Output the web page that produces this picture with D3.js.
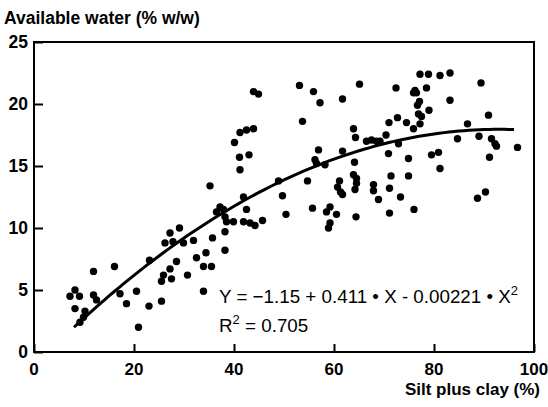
<!DOCTYPE html>
<html>
<head>
<meta charset="utf-8">
<script src="https://cdn.jsdelivr.net/npm/d3@7"></script>
<style>
  body { margin: 0; background: #fff; }
  svg { display: block; }
  text { font-family: "Liberation Sans", Arial, Helvetica, sans-serif; fill: #000; }
</style>
</head>
<body>
<div id="chart"></div>
<script>
// silt plus clay (%)
var siltClay = [
  7.2, 8.2, 9.1, 8.2, 10.2, 9.9, 9.2, 11.9, 11.9, 12.5, 16.1, 17.2, 18.5, 20.5, 20.9,
  23.0, 23.1, 25.5, 25.5, 25.9, 27.5, 27.2, 28.5, 30.7, 26.2, 27.8, 27.2, 29.1, 29.9,
  31.9, 32.5, 33.9, 35.5, 33.9,
  43.9, 44.9, 53.1, 55.9, 57.2, 61.7, 65.1, 53.7, 43.9, 42.5, 41.2, 40.1, 41.1, 43.0,
  41.2, 35.2, 63.9, 64.3, 56.9, 61.7, 66.5, 67.5, 68.5, 56.2, 56.5, 58.2, 64.1, 63.9,
  64.5, 64.5, 64.2, 67.9, 67.9, 68.9, 61.1, 60.7, 61.3, 61.7, 54.7, 48.9, 41.9, 49.7,
  37.2, 37.9, 36.5, 42.5, 38.2, 38.5, 39.9, 41.9, 43.2, 44.2, 45.7, 50.4, 55.7, 59.2,
  58.5, 60.5, 64.4, 59.2, 58.9, 35.7, 38.2, 34.4, 38.2,
  77.2, 78.9, 81.2, 83.2, 89.4, 72.4, 75.9, 76.2, 76.5, 78.5, 83.2, 77.1, 76.7, 79.0,
  76.9, 77.5, 77.2, 75.9, 72.7, 74.5, 71.0, 70.4, 69.2, 72.9, 70.9, 74.9, 79.5, 80.9,
  81.2, 84.7, 86.7, 89.0, 90.9, 91.5, 92.2, 92.5, 96.7, 91.1, 71.4, 74.9, 71.1, 73.3,
  71.1, 76.0, 88.7, 90.3
];
// available water (% w/w), same order
var water = [
  4.5, 5.0, 4.5, 3.5, 3.3, 2.8, 2.4, 6.5, 4.6, 4.2, 6.9, 4.7, 3.9, 4.9, 2.0,
  3.7, 7.4, 4.1, 5.7, 6.2, 5.9, 6.7, 7.3, 6.2, 8.8, 8.9, 9.6, 10.0, 8.8,
  9.0, 7.6, 6.9, 6.9, 4.9,
  21.0, 20.8, 21.5, 21.0, 20.1, 20.4, 21.6, 18.6, 18.0, 17.9, 17.7, 16.9, 15.7, 15.9,
  14.7, 13.4, 18.0, 17.3, 16.3, 16.2, 17.0, 17.1, 17.0, 15.5, 15.2, 15.1, 15.3, 14.3,
  14.0, 13.6, 13.1, 13.5, 13.0, 12.3, 13.8, 13.3, 12.9, 12.7, 13.8, 13.8, 12.5, 12.6,
  11.7, 11.5, 11.3, 11.5, 10.9, 10.5, 10.5, 10.5, 10.4, 10.2, 10.6, 11.1, 11.6, 11.7,
  11.3, 11.1, 10.9, 10.4, 10.0, 9.2, 9.7, 8.0, 8.2,
  22.4, 22.4, 22.3, 22.5, 21.7, 21.3, 20.9, 21.1, 20.9, 21.3, 20.3, 20.2, 19.9, 19.5,
  19.2, 19.0, 18.4, 18.0, 18.9, 18.5, 18.5, 17.5, 17.0, 16.8, 16.0, 15.6, 15.9, 16.1,
  14.8, 17.2, 18.4, 17.4, 19.1, 17.2, 16.8, 16.6, 16.5, 15.7, 14.2, 14.2, 13.2, 12.5,
  11.2, 11.5, 12.4, 12.9
];

// fitted quadratic from the figure: Y = a + b*X + c*X^2
var fitCoef = [-1.15, 0.411, -0.00221];
var fitRange = [8, 96];

var xTicks = [0, 20, 40, 60, 80, 100];
var yTicks = [0, 5, 10, 15, 20, 25];

var W = 548, H = 407;
var plot = { left: 34, right: 534, top: 42, bottom: 352 };

var svg = d3.select("#chart").append("svg")
  .attr("width", W)
  .attr("height", H);

var x = d3.scaleLinear().domain([0, 100]).range([plot.left, plot.right]);
var y = d3.scaleLinear().domain([0, 25]).range([plot.bottom, plot.top]);

// frame
svg.append("rect")
  .attr("x", plot.left).attr("y", plot.top)
  .attr("width", plot.right - plot.left).attr("height", plot.bottom - plot.top)
  .attr("fill", "none")
  .attr("stroke", "#000")
  .attr("stroke-width", 2);

// y axis: ticks point inward
var yAxis = svg.append("g")
  .attr("transform", "translate(" + plot.left + ",0)")
  .call(d3.axisRight(y).tickValues(yTicks).tickSize(9).tickFormat(""));
yAxis.select(".domain").remove();
yAxis.selectAll("line").attr("stroke-width", 2);

svg.selectAll(".ylab")
  .data(yTicks)
  .enter()
  .append("text")
  .attr("class", "ylab")
  .attr("x", plot.left - 6)
  .attr("y", function (d) { return y(d) + 6; })
  .attr("text-anchor", "end")
  .attr("font-size", 17.5)
  .attr("font-weight", "bold")
  .text(function (d) { return d; });

// x axis: ticks point up
var xAxis = svg.append("g")
  .attr("transform", "translate(0," + plot.bottom + ")")
  .call(d3.axisTop(x).tickValues(xTicks).tickSize(8).tickFormat(""));
xAxis.select(".domain").remove();
xAxis.selectAll("line").attr("stroke-width", 2);

svg.selectAll(".xlab")
  .data(xTicks)
  .enter()
  .append("text")
  .attr("class", "xlab")
  .attr("x", function (d) { return x(d); })
  .attr("y", plot.bottom + 23)
  .attr("text-anchor", "middle")
  .attr("font-size", 17)
  .attr("font-weight", "bold")
  .text(function (d) { return d; });

// axis titles
svg.append("text")
  .attr("x", 4)
  .attr("y", 24)
  .attr("font-size", 17.5)
  .attr("font-weight", "bold")
  .text("Available water (% w/w)");

svg.append("text")
  .attr("x", 540)
  .attr("y", 395)
  .attr("text-anchor", "end")
  .attr("font-size", 17)
  .attr("font-weight", "bold")
  .text("Silt plus clay (%)");

// points
svg.append("g")
  .selectAll("circle")
  .data(d3.range(siltClay.length))
  .enter()
  .append("circle")
  .attr("cx", function (i) { return x(siltClay[i]); })
  .attr("cy", function (i) { return y(water[i]); })
  .attr("r", 3.7)
  .attr("fill", "#000");

// fitted curve
var fitX = d3.range(fitRange[0], fitRange[1] + 0.5, 1);
var line = d3.line()
  .x(function (d) { return x(d); })
  .y(function (d) { return y(fitCoef[0] + fitCoef[1] * d + fitCoef[2] * d * d); });
svg.append("path")
  .datum(fitX)
  .attr("d", line)
  .attr("fill", "none")
  .attr("stroke", "#000")
  .attr("stroke-width", 3);

// equation
var eq = svg.append("text")
  .attr("x", 219)
  .attr("y", 303)
  .attr("font-size", 18.8);
eq.append("tspan").text("Y = \u22121.15 + 0.411 \u2022 X - 0.00221 \u2022 X");
eq.append("tspan").attr("dy", -8).attr("font-size", 13).text("2");

var r2 = svg.append("text")
  .attr("x", 219)
  .attr("y", 332)
  .attr("font-size", 18.8);
r2.append("tspan").text("R");
r2.append("tspan").attr("dy", -8).attr("font-size", 13).text("2");
r2.append("tspan").attr("dy", 8).text(" = 0.705");
</script>
</body>
</html>
